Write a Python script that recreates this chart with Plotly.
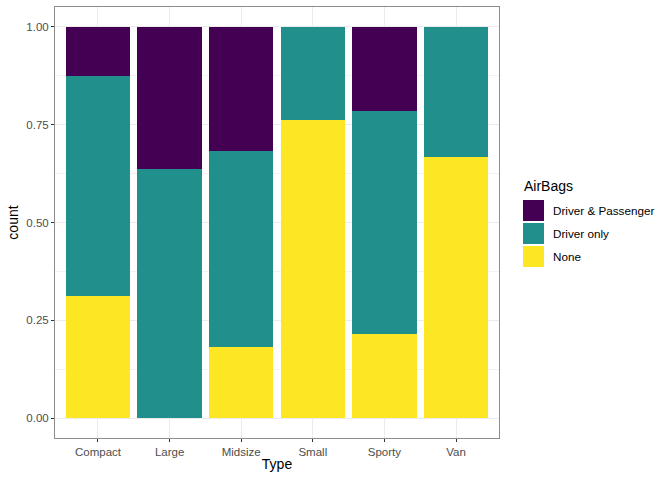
import plotly.graph_objects as go

# Cars93: counts of AirBags within each Type
types = ["Compact", "Large", "Midsize", "Small", "Sporty", "Van"]
none_counts = [5, 0, 4, 16, 3, 6]
driver_only_counts = [9, 7, 11, 5, 8, 3]
driver_pass_counts = [2, 4, 7, 0, 3, 0]

y_ticks = [0, 0.25, 0.5, 0.75, 1.0]
y_tick_labels = ["0.00", "0.25", "0.50", "0.75", "1.00"]

series = [
    ("None", none_counts, "#FDE725"),
    ("Driver only", driver_only_counts, "#21908C"),
    ("Driver & Passenger", driver_pass_counts, "#440154"),
]

W, H = 672, 480
ML, MR, MT, MB = 55, 173, 7, 42

fig = go.Figure()
for name, vals, col in series:
    fig.add_trace(go.Bar(x=types, y=vals, name=name, width=0.9, showlegend=False,
                         marker=dict(color=col, line=dict(width=0))))

# ggplot-style legend with big square keys, drawn by hand
pw = W - ML - MR
ph = H - MT - MB
def px_x(x):
    return (x - ML) / pw
def px_y(y):
    return (H - MB - y) / ph

shapes = []
annotations = [dict(text="AirBags", x=px_x(522), y=px_y(186), xref="paper", yref="paper",
                    xanchor="left", yanchor="middle", showarrow=False,
                    font=dict(size=14, color="black"))]
for i, (name, vals, col) in enumerate(reversed(series)):
    top = 200 + i * 23
    shapes.append(dict(type="rect", xref="paper", yref="paper",
                       x0=px_x(523), x1=px_x(544), y0=px_y(top), y1=px_y(top + 21),
                       fillcolor=col, line=dict(width=0)))
    annotations.append(dict(text=name, x=px_x(551), y=px_y(top + 10.5),
                            xref="paper", yref="paper", xanchor="left", yanchor="middle",
                            showarrow=False, font=dict(size=11.7, color="black")))

fig.update_layout(
    barmode="stack",
    barnorm="fraction",
    width=W, height=H,
    margin=dict(l=ML, r=MR, t=MT, b=MB),
    plot_bgcolor="white",
    paper_bgcolor="white",
    font=dict(family="Liberation Sans, Arial, sans-serif", color="black"),
    shapes=shapes,
    annotations=annotations,
    showlegend=False,
)

fig.update_xaxes(
    title=dict(text="Type", font=dict(size=14), standoff=2),
    range=[-0.6, 5.6],
    automargin=False,
    showgrid=True, gridcolor="#EBEBEB", gridwidth=1,
    showline=True, mirror=True, linecolor="#8C8C8C", linewidth=1,
    ticks="outside", ticklen=3, tickcolor="#333333",
    tickfont=dict(size=11.5, color="#4D4D4D"),
)
fig.update_yaxes(
    title=dict(text="count", font=dict(size=14), standoff=4),
    range=[-0.05, 1.05],
    automargin=False,
    tickvals=y_ticks, ticktext=y_tick_labels,
    showgrid=True, gridcolor="#EBEBEB", gridwidth=1,
    minor=dict(tickvals=[0.125, 0.375, 0.625, 0.875], showgrid=True,
               gridcolor="#F2F2F2", gridwidth=0.5),
    zeroline=False,
    showline=True, mirror=True, linecolor="#8C8C8C", linewidth=1,
    ticks="outside", ticklen=3, tickcolor="#333333",
    tickfont=dict(size=11.5, color="#4D4D4D"),
)

fig.write_html("out.html", config={"displayModeBar": False},
               post_script="document.body.style.margin='0';")
